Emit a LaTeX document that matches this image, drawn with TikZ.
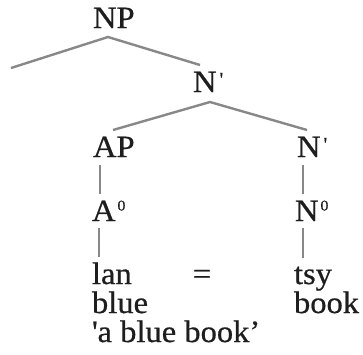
\documentclass[tikz,border=0pt]{standalone}
\usepackage{fontspec}
\setmainfont[FakeStretch=1.05,FakeBold=0.6]{Liberation Serif}
\definecolor{txt}{HTML}{1E1E1E}
\definecolor{edge}{HTML}{888888}
\newcommand{\supzero}{\hspace{2pt}\raisebox{10.5pt}{\fontsize{15}{15}\selectfont 0}}
\newcommand{\barprime}{\hspace{3pt}\raisebox{6pt}{\fontsize{20}{20}\selectfont\textquotesingle}}
\begin{document}
\begin{tikzpicture}[x=1pt,y=-1pt,
  lab/.style={inner sep=0pt,outer sep=0pt,anchor=base west,text=txt,font=\fontsize{31}{31}\selectfont},
  br/.style={draw=edge,line width=2.4pt}]
\useasboundingbox (0,0) rectangle (363,354);
\node[lab] (NP) at (93,28) {NP};
\node[lab] (N1) at (193,92) {N\barprime};
\node[lab] (AP) at (93,157) {AP};
\node[lab] (N2) at (297,157) {N\barprime};
\node[lab] (A0) at (92,221) {A\supzero};
\node[lab] (N0) at (295,221) {N\supzero};
\node[lab] (lan) at (92,284) {lan};
\node[lab] (tsy) at (294,284) {tsy};
\node[lab] (blue) at (92,313) {blue};
\node[lab] (book) at (294,313) {book};
\node[lab] (gloss) at (92,342) {\textquotesingle a blue book'};
\node[lab,anchor=center] (eq) at (202,277) {=};
\coordinate (left) at (11,68);
\draw[br] (left) -- ([shift={(15,9)}]NP.base west) -- ([shift={(7,-27)}]N1.base west);
\draw[br] ([shift={(20,-27)}]AP.base west) -- ([shift={(17,10)}]N1.base west) -- ([shift={(10,-27)}]N2.base west);
\draw[br] ([shift={(7,8)}]AP.base west) -- ([shift={(8,-27)}]A0.base west);
\draw[br] ([shift={(7,7)}]A0.base west) -- ([shift={(7,-27)}]lan.base west);
\draw[br] ([shift={(6,8)}]N2.base west) -- ([shift={(8,-27)}]N0.base west);
\draw[br] ([shift={(8,7)}]N0.base west) -- ([shift={(9,-26)}]tsy.base west);
\end{tikzpicture}
\end{document}
